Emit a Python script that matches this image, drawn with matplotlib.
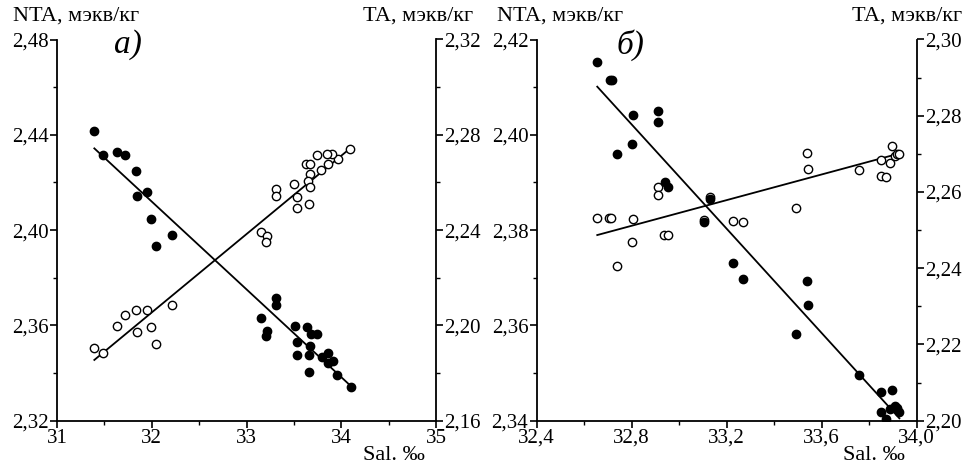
import matplotlib
matplotlib.use("Agg")
import matplotlib.pyplot as plt
from matplotlib.ticker import MultipleLocator, FuncFormatter
import numpy as np

plt.rcParams['font.family'] = ['Liberation Serif', 'DejaVu Serif']

# ---------------- Panel a) ----------------
a_sal_nta = [31.387, 31.486, 31.633, 31.718, 31.834, 31.841, 31.953, 31.995, 32.217, 32.048,
             33.314, 33.314, 33.157, 33.213, 33.206, 33.508, 33.635, 33.677, 33.740, 33.536,
             33.670, 33.533, 33.663, 33.793, 33.857, 33.910, 33.857, 33.656, 33.958, 34.100]
a_nta = [2.4416, 2.4314, 2.4329, 2.4317, 2.4249, 2.4144, 2.4159, 2.4048, 2.3981, 2.3932,
         2.3714, 2.3686, 2.3631, 2.3575, 2.3556, 2.3599, 2.3592, 2.3564, 2.3564, 2.3529,
         2.3515, 2.3476, 2.3476, 2.3466, 2.3483, 2.3452, 2.3441, 2.3406, 2.3392, 2.3343]
a_sal_ta = [31.387, 31.486, 31.633, 31.718, 31.834, 31.953, 31.841, 31.995, 32.048, 32.217,
            34.092, 33.962, 33.906, 33.853, 33.740, 33.860, 33.783, 33.628, 33.666, 33.673,
            33.649, 33.670, 33.501, 33.530, 33.533, 33.656, 33.308, 33.308, 33.157, 33.213, 33.206]
a_ta = [2.1905, 2.1883, 2.1999, 2.2044, 2.2065, 2.2065, 2.1971, 2.1993, 2.1921, 2.2084,
        2.2739, 2.2698, 2.2718, 2.2718, 2.2717, 2.2676, 2.2652, 2.2676, 2.2676, 2.2634,
        2.2606, 2.2582, 2.2594, 2.2540, 2.2492, 2.2508, 2.2571, 2.2543, 2.2391, 2.2377, 2.2349]
a_fit_sal = [31.394, 34.100]
a_fit_nta = [2.4343, 2.3346]
a_fit_ta = [2.1855, 2.2745]

# ---------------- Panel б) ----------------
b_sal_nta = [32.655, 32.709, 32.716, 32.804, 32.909, 32.909, 32.803, 32.738, 32.939, 32.953,
             33.130, 33.106, 33.225, 33.270, 33.539, 33.544, 33.490,
             33.756, 33.848, 33.896, 33.848, 33.871, 33.886, 33.907, 33.918, 33.927]
b_nta = [2.4153, 2.4114, 2.4114, 2.4041, 2.4049, 2.4027, 2.3980, 2.3960, 2.3900, 2.3890,
         2.3865, 2.3818, 2.3732, 2.3697, 2.3694, 2.3643, 2.3581,
         2.3496, 2.3461, 2.3465, 2.3418, 2.3403, 2.3425, 2.3431, 2.3426, 2.3419]
b_sal_ta = [32.654, 32.703, 32.712, 32.804, 32.801, 32.739, 32.909, 32.909, 32.937, 32.954,
            33.130, 33.106, 33.226, 33.270, 33.490, 33.539, 33.544,
            33.756, 33.848, 33.848, 33.871, 33.886, 33.896, 33.907, 33.918, 33.927]
b_ta = [2.2532, 2.2532, 2.2532, 2.2529, 2.2470, 2.2407, 2.2612, 2.2591, 2.2487, 2.2487,
        2.2586, 2.2526, 2.2524, 2.2520, 2.2559, 2.2703, 2.2660,
        2.2657, 2.2684, 2.2643, 2.2640, 2.2675, 2.2721, 2.2694, 2.2699, 2.2699]
b_fit_sal = [32.655, 33.927]
b_fit_nta = [2.4101, 2.3405]
b_fit_ta = [2.2487, 2.2701]

W, H = 966, 466
fig = plt.figure(figsize=(W / 100, H / 100), dpi=100)

FS = 15
ybot_px, ytop_px = 420.7, 39.5


def comma(fmt):
    return FuncFormatter(lambda v, p: (fmt % v).replace('.', ','))


def make_panel(x0, x1, xlim, ylim1, ylim2, xmaj, xmin, y1maj, y1min, y2maj, y2min, xfmt,
               sal_n, nta, sal_t, ta, fs, fn, ft):
    ax = fig.add_axes([x0 / W, 1 - ybot_px / H, (x1 - x0) / W, (ybot_px - ytop_px) / H])
    ax2 = ax.twinx()
    ax.set_xlim(*xlim)
    ax.set_ylim(*ylim1)
    ax2.set_ylim(*ylim2)
    ax.set_zorder(2)
    ax.patch.set_visible(False)
    # marks
    ax2.plot(sal_t, ta, 'o', ms=6.0, mfc='white', mec='black', mew=1.0, ls='none', zorder=3)
    ax2.plot(fs, ft, '-', color='black', lw=1.3, zorder=2)
    ax.plot(fs, fn, '-', color='black', lw=1.3, zorder=2)
    ax.plot(sal_n, nta, 'o', ms=6.0, mfc='black', mec='black', ls='none', zorder=4)
    # spines
    for a in (ax, ax2):
        a.spines['top'].set_visible(False)
    ax.spines['right'].set_visible(False)
    ax2.spines['left'].set_visible(False)
    ax2.spines['bottom'].set_visible(False)
    for a in (ax, ax2):
        for s in a.spines.values():
            s.set_linewidth(1.3)
    # ticks
    ax.xaxis.set_major_locator(MultipleLocator(xmaj))
    ax.xaxis.set_minor_locator(MultipleLocator(xmin))
    ax.yaxis.set_major_locator(MultipleLocator(y1maj))
    ax.yaxis.set_minor_locator(MultipleLocator(y1min))
    ax2.yaxis.set_major_locator(MultipleLocator(y2maj))
    ax2.yaxis.set_minor_locator(MultipleLocator(y2min))
    ax.xaxis.set_major_formatter(comma(xfmt))
    ax.yaxis.set_major_formatter(comma('%.2f'))
    ax2.yaxis.set_major_formatter(comma('%.2f'))
    ax.tick_params(axis='both', which='major', direction='out', length=5, width=1.2,
                   labelsize=FS, pad=1)
    ax.tick_params(axis='both', which='minor', direction='out', length=3, width=1.0)
    ax.tick_params(axis='y', which='both', right=False)
    ax.tick_params(axis='x', which='both', top=False)
    ax2.tick_params(axis='y', which='major', direction='out', length=5, width=1.2,
                    labelsize=FS, pad=1)
    ax2.tick_params(axis='y', which='minor', direction='out', length=3, width=1.0)
    return ax, ax2


make_panel(57, 436, (31, 35), (2.32, 2.48), (2.16, 2.32), 1, 0.5, 0.04, 0.02, 0.04, 0.02, '%.0f',
           a_sal_nta, a_nta, a_sal_ta, a_ta, a_fit_sal, a_fit_nta, a_fit_ta)
make_panel(536.7, 916.7, (32.4, 34.0), (2.34, 2.42), (2.20, 2.30), 0.4, 0.2, 0.02, 0.01, 0.02, 0.01,
           '%.1f', b_sal_nta, b_nta, b_sal_ta, b_ta, b_fit_sal, b_fit_nta, b_fit_ta)

# labels
LS = 16
fig.text(13 / W, 1 - 16 / H, 'NTA, мэкв/кг', fontsize=LS, ha='left', va='center')
fig.text(473 / W, 1 - 16 / H, 'TA, мэкв/кг', fontsize=LS, ha='right', va='center')
fig.text(497 / W, 1 - 16 / H, 'NTA, мэкв/кг', fontsize=LS, ha='left', va='center')
fig.text(962 / W, 1 - 16 / H, 'TA, мэкв/кг', fontsize=LS, ha='right', va='center')
fig.text(128 / W, 1 - 45 / H, 'а)', fontsize=24, style='italic', ha='center', va='center')
fig.text(630 / W, 1 - 45 / H, 'б)', fontsize=24, style='italic', ha='center', va='center')
fig.text(394 / W, 1 - 455 / H, 'Sal. ‰', fontsize=LS, ha='center', va='center')
fig.text(874 / W, 1 - 455 / H, 'Sal. ‰', fontsize=LS, ha='center', va='center')

fig.savefig('out.png', dpi=100)
